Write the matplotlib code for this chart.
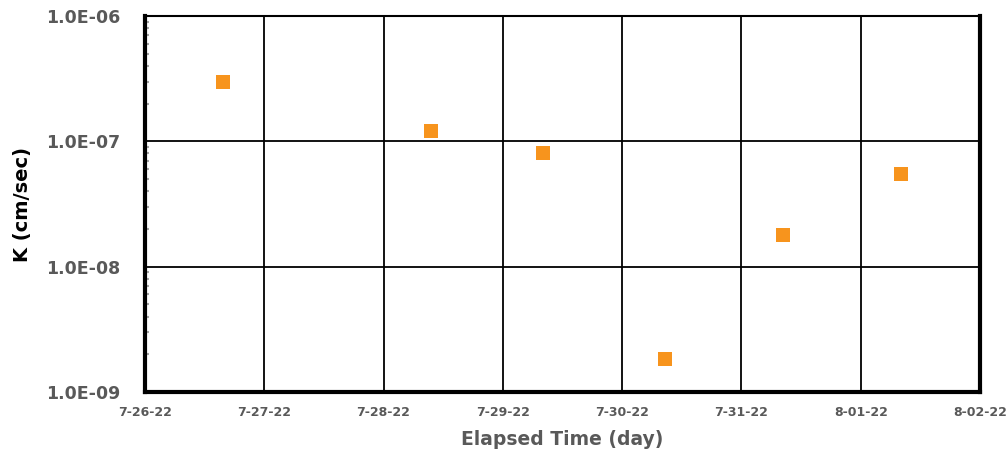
import matplotlib.pyplot as plt
from matplotlib.ticker import LogLocator, NullFormatter
import numpy as np
from datetime import datetime

# test times and hydraulic conductivity values
times = ["2022-07-26 15:40", "2022-07-28 09:30", "2022-07-29 08:05",
         "2022-07-30 08:35", "2022-07-31 08:20", "2022-08-01 08:05"]
k_vals = [2.95e-7, 1.2e-7, 8.0e-8, 1.85e-9, 1.8e-8, 5.5e-8]

x_ticks = ["2022-07-26", "2022-07-27", "2022-07-28", "2022-07-29",
           "2022-07-30", "2022-07-31", "2022-08-01", "2022-08-02"]
x_labels = ["7-26-22", "7-27-22", "7-28-22", "7-29-22",
            "7-30-22", "7-31-22", "8-01-22", "8-02-22"]
y_ticks = [1e-9, 1e-8, 1e-7, 1e-6]
y_labels = ["1.0E-09", "1.0E-08", "1.0E-07", "1.0E-06"]

gray = "#595959"
plt.rcParams['font.family'] = ['DejaVu Sans']

fig = plt.figure(figsize=(10.08, 4.51), dpi=100)
ax = fig.add_axes([0.1438, 0.1308, 0.8284, 0.8337])

t = [datetime.strptime(s, "%Y-%m-%d %H:%M") for s in times]
ax.scatter(t, k_vals, marker="s", s=110, color="#F7941D", zorder=3, linewidths=0)

ax.set_yscale("log")
ax.set_ylim(1e-9, 1e-6)
xt = [datetime.strptime(s, "%Y-%m-%d") for s in x_ticks]
ax.set_xlim(xt[0], xt[-1])
ax.set_xticks(xt)
ax.set_xticklabels(x_labels)
ax.set_yticks(y_ticks)
ax.set_yticklabels(y_labels)
ax.yaxis.set_minor_locator(LogLocator(base=10, subs=np.arange(2, 10), numticks=20))
ax.yaxis.set_minor_formatter(NullFormatter())

ax.grid(True, which="major", color="black", linewidth=1.3)
ax.tick_params(axis="y", which="major", length=0, pad=18, labelsize=12.5, labelcolor=gray)
ax.tick_params(axis="y", which="minor", direction="in", length=3, width=1.5, color="#A6A6A6")
ax.tick_params(axis="x", which="major", length=0, pad=10, labelsize=9, labelcolor=gray)
for lab in ax.get_xticklabels() + ax.get_yticklabels():
    lab.set_fontweight("bold")

for side in ["left", "bottom", "right"]:
    ax.spines[side].set_linewidth(3)
ax.spines["top"].set_linewidth(1.5)

ax.set_xlabel("Elapsed Time (day)", fontsize=13.5, fontweight="bold", color=gray, labelpad=8)
ax.set_ylabel("K (cm/sec)", fontsize=14, fontweight="bold", color="black", labelpad=10)

fig.savefig("out.png", dpi=100)
